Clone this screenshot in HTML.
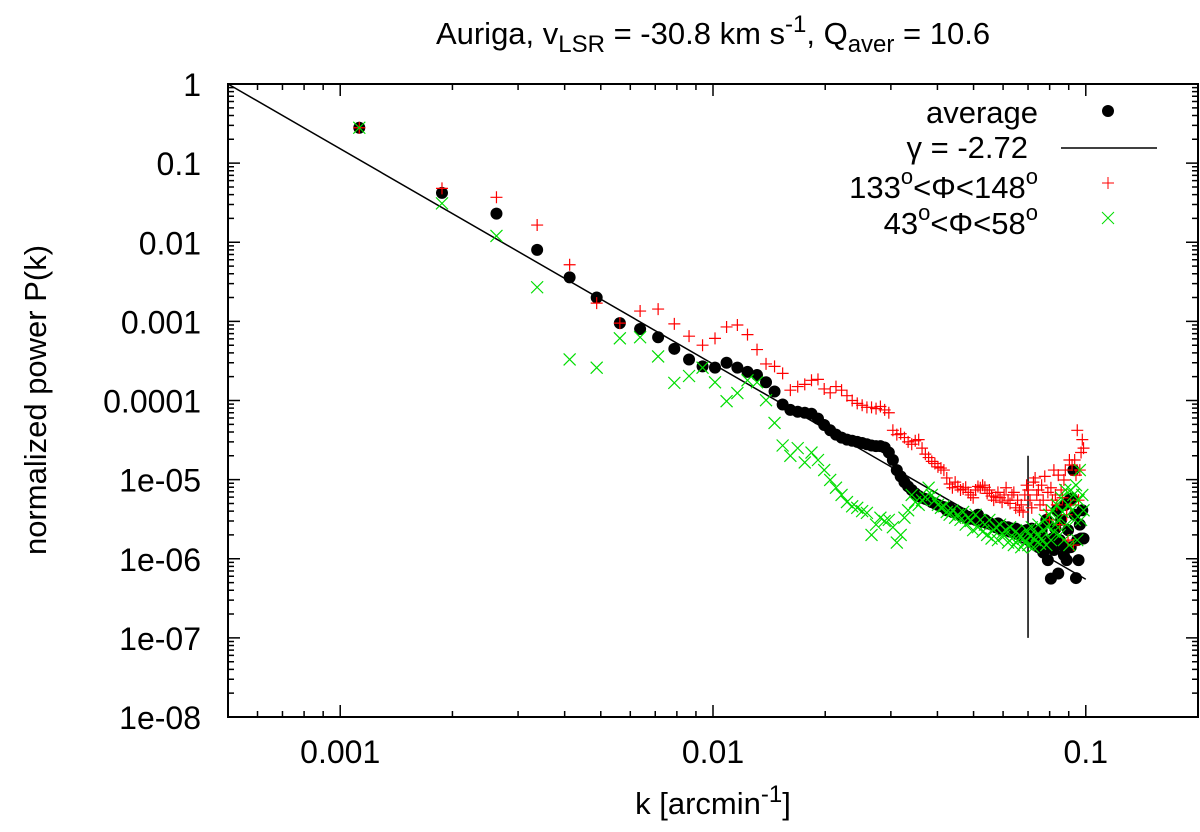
<!DOCTYPE html>
<html><head><meta charset="utf-8"><style>
body{margin:0;background:#fff}
svg{display:block;font-family:"Liberation Sans",sans-serif}
</style></head><body>
<svg id="chart" width="1200" height="832" viewBox="0 0 1200 832" xmlns="http://www.w3.org/2000/svg">
<text x="713" y="44" font-size="31" text-anchor="middle">Auriga, v<tspan font-size="24" dy="8">LSR</tspan><tspan dy="-8"> = -30.8 km s</tspan><tspan font-size="24" dy="-12">-1</tspan><tspan dy="12">, Q</tspan><tspan font-size="24" dy="8">aver</tspan><tspan dy="-8"> = 10.6</tspan></text>
<text transform="translate(46,400) rotate(-90)" font-size="31" text-anchor="middle">normalized power P(k)</text>
<text x="713" y="814" font-size="31" text-anchor="middle">k [arcmin<tspan font-size="24" dy="-12">-1</tspan><tspan dy="12">]</tspan></text>
<g id="ticks"></g>
<g id="marks"></g>
<g id="legend">
<text x="1038" y="123" font-size="31" text-anchor="end">average</text>
<circle cx="1108" cy="111" r="6" fill="#000"/>
<text x="1028" y="158" font-size="31" text-anchor="end">γ = -2.72</text>
<line x1="1061" y1="148" x2="1157" y2="148" stroke="#000" stroke-width="1.5"/>
<text x="1038" y="198" font-size="31" text-anchor="end">133<tspan font-size="22" dy="-14">o</tspan><tspan dy="14">&lt;Φ&lt;148</tspan><tspan font-size="22" dy="-14">o</tspan></text>
<path d="M1102 183h12M1108 177v12" stroke="#f00" stroke-width="1"/>
<text x="1038" y="234" font-size="31" text-anchor="end">43<tspan font-size="22" dy="-14">o</tspan><tspan dy="14">&lt;Φ&lt;58</tspan><tspan font-size="22" dy="-14">o</tspan></text>
<path d="M1102 212l12 12M1114 212l-12 12" stroke="#0d0" stroke-width="1"/>
</g>
<rect x="228" y="84" width="970" height="633" fill="none" stroke="#000" stroke-width="2"/>
</svg>
<script>
const xTickValues=[0.001,0.01,0.1];
const xTickLabels=["0.001","0.01","0.1"];
const yTickValues=[1,0.1,0.01,0.001,0.0001,1e-5,1e-6,1e-7,1e-8];
const yTickLabels=["1","0.1","0.01","0.001","0.0001","1e-05","1e-06","1e-07","1e-08"];
const kValues=[0.001125,0.001875,0.002625,0.003375,0.004125,0.004875,0.005625,0.006375,0.007125,0.007875,0.008625,0.009375,0.010125,0.010875,0.011625,0.012375,0.013125,0.013875,0.014625,0.015375,0.016125,0.016875,0.017625,0.018375,0.019125,0.019875,0.020625,0.021375,0.022125,0.022875,0.023625,0.024375,0.025125,0.025875,0.026625,0.027375,0.028125,0.028875,0.029625,0.030375,0.031125,0.031875,0.032625,0.033375,0.034125,0.034875,0.035625,0.036375,0.037125,0.037875,0.038625,0.039375,0.040125,0.040875,0.041625,0.042375,0.043125,0.043875,0.044625,0.045375,0.046125,0.046875,0.047625,0.048375,0.049125,0.049875,0.050625,0.051375,0.052125,0.052875,0.053625,0.054375,0.055125,0.055875,0.056625,0.057375,0.058125,0.058875,0.059625,0.060375,0.061125,0.061875,0.062625,0.063375,0.064125,0.064875,0.065625,0.066375,0.067125,0.067875,0.068625,0.069375,0.070125,0.070875,0.071625,0.072375,0.073125,0.073875,0.074625,0.075375,0.076125,0.076875,0.077625,0.078375,0.079125,0.079875,0.080625,0.081375,0.082125,0.082875,0.083625,0.084375,0.085125,0.085875,0.086625,0.087375,0.088125,0.088875,0.089625,0.090375,0.091125,0.091875,0.092625,0.093375,0.094125,0.094875,0.095625,0.096375,0.097125,0.097875,0.098625];
const averagePower=[0.28,0.042,0.023,0.008,0.0036,0.002,0.00095,0.0008,0.00063,0.00045,0.00033,0.00027,0.00026,0.0003,0.00026,0.00023,0.00021,0.00017,0.00013,8.9e-5,
7.6e-5,7.2e-5,7.0e-5,6.8e-5,5.9e-5,4.9e-5,4.2e-5,3.7e-5,3.4e-5,3.2e-5,
3.1e-5,3.0e-5,2.9e-5,2.8e-5,2.7e-5,2.65e-5,2.65e-5,2.55e-5,2.2e-5,1.77e-5,
1.32e-5,1.1e-5,9.3e-6,8.2e-6,7.4e-6,6.7e-6,6.2e-6,5.9e-6,5.7e-6,5.5e-6,
5.2e-6,5.0e-6,4.8e-6,4.6e-6,4.5e-6,4.1e-6,4.4e-6,3.9e-6,4.0e-6,3.8e-6,
3.5e-6,3.7e-6,3.3e-6,3.4e-6,3.2e-6,3.3e-6,3.1e-6,3.6e-6,3.0e-6,2.9e-6,
3.1e-6,2.8e-6,2.85e-6,2.7e-6,2.7e-6,2.5e-6,2.8e-6,2.4e-6,2.6e-6,2.4e-6,
2.3e-6,2.5e-6,2.2e-6,2.4e-6,2.2e-6,2.4e-6,2.05e-6,2.2e-6,2.0e-6,2.1e-6,
1.95e-6,2.3e-6,1.8e-6,2.05e-6,2.4e-6,1.72e-6,1.49e-6,2.2e-6,1.4e-6,1.8e-6,
2.3e-6,1.2e-6,1.65e-6,3.1e-6,9.6e-7,1.49e-6,5.6e-7,1.8e-6,1.29e-6,2.4e-6,
4.1e-6,6.5e-7,1.72e-6,3.1e-6,1.49e-6,1.11e-6,4.8e-6,9.6e-7,2.3e-6,5.5e-6,
1.4e-6,5.8e-6,1.32e-5,3.6e-6,5.7e-7,1.72e-6,9.6e-7,2.7e-6,1.8e-6,4.1e-6,1.8e-6];
const redPower=[0.28,0.048,0.037,0.0165,0.0052,0.0017,0.00095,0.00135,0.00143,0.00093,0.00065,0.0005,0.00061,0.00085,0.0009,0.00068,0.00044,0.00029,0.00027,0.00022,
1.35e-4,1.5e-4,1.6e-4,1.8e-4,1.85e-4,1.4e-4,1.25e-4,1.5e-4,1.35e-4,1.15e-4,
1.0e-4,9.2e-5,8.7e-5,8.2e-5,8.2e-5,7.9e-5,8.4e-5,7.6e-5,7.0e-5,4.2e-5,
3.7e-5,3.8e-5,3.4e-5,3.0e-5,2.8e-5,3.1e-5,3.2e-5,2.5e-5,2.1e-5,1.9e-5,
1.7e-5,1.6e-5,1.45e-5,1.4e-5,1.32e-5,1.05e-5,8.8e-6,7.9e-6,9.3e-6,8.2e-6,
7.4e-6,7.6e-6,8.0e-6,6.9e-6,6.4e-6,5.9e-6,7.4e-6,8.2e-6,7.9e-6,8.5e-6,
8.0e-6,6.7e-6,7.4e-6,6.2e-6,5.5e-6,6.0e-6,6.9e-6,5.9e-6,5.2e-6,6.4e-6,
7.9e-6,5.5e-6,5.0e-6,6.4e-6,6.9e-6,4.4e-6,5.5e-6,4.1e-6,4.8e-6,3.9e-6,
6.4e-6,8.5e-6,7.4e-6,5.5e-6,4.4e-6,9.3e-6,1.05e-5,6.4e-6,7.4e-6,4.8e-6,
8.5e-6,5.5e-6,1.1e-5,4.1e-6,6.9e-6,3.1e-6,7.9e-6,5.5e-6,1.32e-5,6.4e-6,
4.8e-6,1.14e-5,2.7e-6,7.4e-6,5.9e-6,9.9e-6,1.32e-5,3.6e-6,1.72e-6,1.77e-5,
4.8e-6,1.53e-5,1.49e-6,1.77e-5,1.14e-5,4.2e-5,5.5e-6,1.32e-5,2.2e-5,3.2e-5,2.5e-5];
const greenPower=[0.28,0.031,0.012,0.0027,0.00033,0.00026,0.00061,0.00063,0.00036,0.000167,0.000204,0.00026,0.00017,9.8e-5,1.24e-4,1.8e-4,1.7e-4,1.01e-4,5.2e-5,2.7e-5,
2.0e-5,2.5e-5,1.65e-5,2.2e-5,1.77e-5,1.32e-5,9.9e-6,7.9e-6,6.4e-6,5.2e-6,
4.6e-6,4.4e-6,4.0e-6,3.8e-6,2.0e-6,2.7e-6,3.3e-6,3.0e-6,3.1e-6,2.5e-6,
1.6e-6,2.0e-6,3.3e-6,4.1e-6,6.4e-6,5.2e-6,4.8e-6,5.5e-6,6.0e-6,7.9e-6,
6.4e-6,5.5e-6,4.8e-6,4.4e-6,4.6e-6,3.9e-6,3.6e-6,4.1e-6,3.3e-6,3.6e-6,
3.1e-6,3.9e-6,2.7e-6,3.3e-6,3.0e-6,2.3e-6,3.6e-6,2.5e-6,3.1e-6,2.2e-6,
2.7e-6,2.0e-6,3.1e-6,1.8e-6,2.3e-6,2.5e-6,1.72e-6,2.7e-6,2.1e-6,1.95e-6,
2.3e-6,1.6e-6,2.5e-6,1.8e-6,1.49e-6,2.2e-6,1.72e-6,2.0e-6,1.4e-6,1.8e-6,
1.6e-6,2.3e-6,1.49e-6,1.95e-6,2.5e-6,1.4e-6,1.72e-6,2.0e-6,2.7e-6,1.55e-6,
1.8e-6,2.3e-6,3.1e-6,1.49e-6,2.5e-6,3.6e-6,1.72e-6,4.1e-6,2.2e-6,2.7e-6,
4.8e-6,3.1e-6,2.0e-6,5.9e-6,3.9e-6,1.72e-6,7.4e-6,2.7e-6,4.8e-6,1.49e-6,
7.4e-6,4.1e-6,6.4e-6,3.1e-6,8.5e-6,1.72e-6,5.5e-6,1.32e-5,3.1e-6,6.4e-6,4.1e-6];
const fitGamma=-2.72, fitAmp=1, fitK0=0.0005, fitKStart=0.0005, fitKEnd=0.1;
const cutoffK=0.07, cutoffTop=2e-5, cutoffBottom=1e-7;

const X0=228,X1=1198,Y0=84,Y1=717,KMIN=0.0005,KMAX=0.2,PMAX=1,PMIN=1e-8;
function sx(k){return X0+(Math.log10(k)-Math.log10(KMIN))/(Math.log10(KMAX)-Math.log10(KMIN))*(X1-X0);}
function sy(p){return Y0+(Math.log10(PMAX)-Math.log10(p))/(Math.log10(PMAX)-Math.log10(PMIN))*(Y1-Y0);}
const NS="http://www.w3.org/2000/svg";
function mk(tag,attrs,parent){const e=document.createElementNS(NS,tag);for(const a in attrs)e.setAttribute(a,attrs[a]);parent.appendChild(e);return e;}
const ticks=document.getElementById('ticks'), marks=document.getElementById('marks');
let d="";
for(let e=-4;e<=0;e++){for(let m=1;m<10;m++){const k=m*Math.pow(10,e);if(k<KMIN-1e-12||k>KMAX+1e-12)continue;const x=sx(k),L=m===1?12:6;d+=`M${x} ${Y1}v${-L}M${x} ${Y0}v${L}`;}}
for(let e=-8;e<=0;e++){for(let m=1;m<10;m++){const p=m*Math.pow(10,e);if(p>PMAX+1e-12)continue;const y=sy(p),L=m===1?12:6;d+=`M${X0} ${y}h${L}M${X1} ${y}h${-L}`;}}
const tp=mk('path',{d:d,stroke:'#000','stroke-width':1.5,fill:'none'},ticks);


xTickValues.forEach((v,i)=>{const t=mk('text',{x:sx(v),y:763,'font-size':32,'text-anchor':'middle'},ticks);t.textContent=xTickLabels[i];

});
yTickValues.forEach((v,i)=>{const t=mk('text',{x:201,y:sy(v)+12,'font-size':32,'text-anchor':'end'},ticks);t.textContent=yTickLabels[i];

});
const fl=mk('line',{x1:sx(fitKStart),y1:sy(fitAmp*Math.pow(fitKStart/fitK0,fitGamma)),x2:sx(fitKEnd),y2:sy(fitAmp*Math.pow(fitKEnd/fitK0,fitGamma)),stroke:'#000','stroke-width':1.5},marks);


const cl=mk('line',{x1:sx(cutoffK),y1:sy(cutoffTop),x2:sx(cutoffK),y2:sy(cutoffBottom),stroke:'#000','stroke-width':1.5},marks);


averagePower.forEach((p,i)=>{const c=mk('circle',{cx:sx(kValues[i]),cy:sy(p),r:6,fill:'#000'},marks);

});
redPower.forEach((p,i)=>{const x=sx(kValues[i]),y=sy(p);const e=mk('path',{d:`M${x-6} ${y}h12M${x} ${y-6}v12`,stroke:'#f00','stroke-width':1.2,fill:'none'},marks);

});
greenPower.forEach((p,i)=>{const x=sx(kValues[i]),y=sy(p);const e=mk('path',{d:`M${x-6} ${y-6}l12 12M${x+6} ${y-6}l-12 12`,stroke:'#0d0','stroke-width':1.2,fill:'none'},marks);

});
</script>
</body></html>
